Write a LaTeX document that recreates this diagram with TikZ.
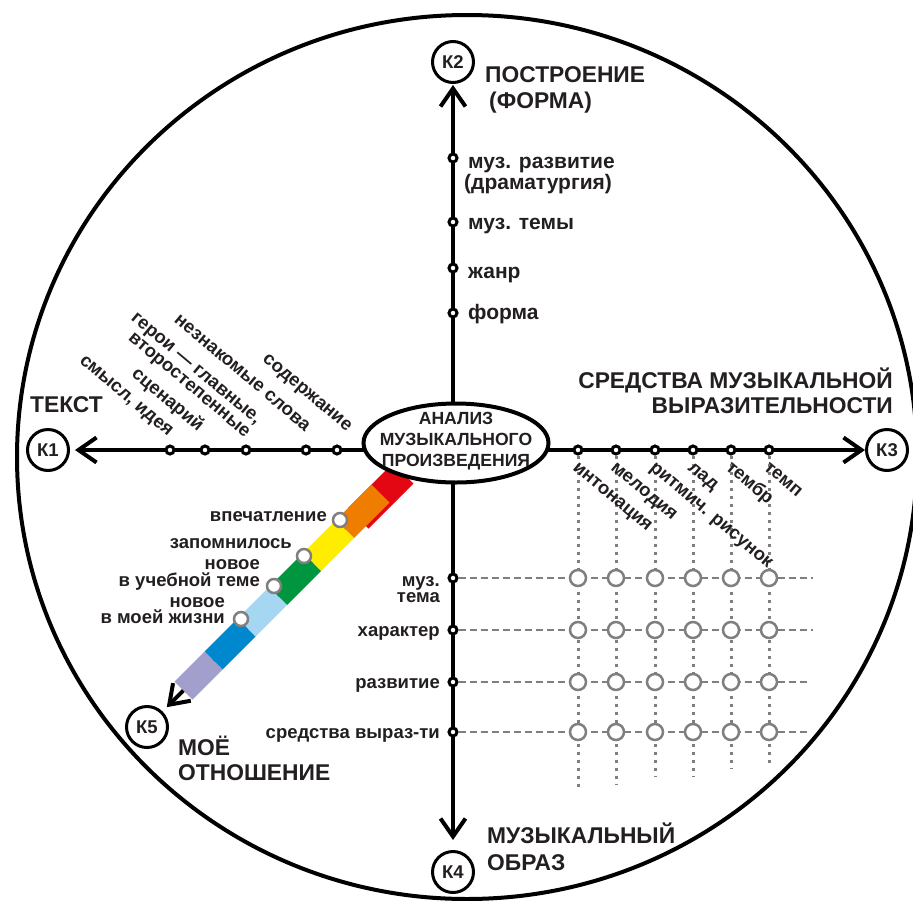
\documentclass[tikz,border=0pt]{standalone}
\usepackage{fontspec}
\setmainfont{Liberation Sans}
\usetikzlibrary{arrows.meta,shapes.geometric}
\pgfdeclarelayer{back}
\pgfdeclarelayer{mid}
\pgfsetlayers{back,mid,main}
\definecolor{ink}{HTML}{231F20}
\definecolor{gridgray}{HTML}{7F7F7F}
\definecolor{bandRed}{HTML}{E30613}
\definecolor{bandOrange}{HTML}{EF7D00}
\definecolor{bandYellow}{HTML}{FFED00}
\definecolor{bandGreen}{HTML}{009640}
\definecolor{bandSky}{HTML}{A5D7F3}
\definecolor{bandBlue}{HTML}{0088CF}
\definecolor{bandLilac}{HTML}{A39FCC}
% one coloured piece of the band: colour, start/end along the band (y-x), edges across it (x+y)
\newcommand{\bandpiece}[5]{%
  \fill[#1] ({(#4-#2)/2},{(#4+#2)/2}) -- ({(#5-#2)/2},{(#5+#2)/2})
    -- ({(#5-#3)/2},{(#5+#3)/2}) -- ({(#4-#3)/2},{(#4+#3)/2}) -- cycle;}
\begin{document}
\begin{tikzpicture}[x=1pt,y=-1pt,
  axisline/.style={draw=black, line width=4pt},
  barb/.style={-{Straight Barb[length=18pt,width=25pt,line width=4pt]}},
  kc/.style={circle, draw=black, line width=3pt, fill=white, minimum size=41pt,
    inner sep=0pt, text=ink, font=\fontsize{18.5}{18}\selectfont\bfseries},
  axdot/.style={circle, draw=black, line width=3pt, fill=white, minimum size=8pt, inner sep=0pt},
  gcirc/.style={circle, draw=gridgray, line width=2.5pt, fill=white, minimum size=16pt, inner sep=0pt},
  bcirc/.style={circle, draw=gridgray, line width=2.5pt, fill=white, minimum size=14pt, inner sep=0pt},
  gdash/.style={draw=gridgray, line width=2pt, dash pattern=on 7pt off 4pt},
  gdot/.style={draw=gridgray, line width=3pt, dash pattern=on 3pt off 5pt},
  lbl/.style={text=ink, inner sep=0pt, font=\fontsize{18.5}{17}\selectfont\bfseries},
  toplbl/.style={text=ink, inner sep=0pt, font=\fontsize{21}{21}\selectfont\bfseries},
  head/.style={text=ink, inner sep=0pt, font=\fontsize{22.8}{25}\selectfont\bfseries},
  slant/.style={lbl, rotate=-40}]
\useasboundingbox (0,0) rectangle (913,900);

% centre
\node[ellipse, draw=black, line width=4pt, fill=white, minimum width=185pt, minimum height=79pt,
  inner sep=-20pt, align=center, text=ink, text depth=7pt, font=\fontsize{17.6}{21}\selectfont\bfseries]
  (ana) at (456,443) {АНАЛИЗ\\МУЗЫКАЛЬНОГО\\ПРОИЗВЕДЕНИЯ};

% the five directions
\node[kc] (K1) at (48,450) {К1};
\node[kc] (K2) at (453,62) {К2};
\node[kc] (K3) at (887,450) {К3};
\node[kc] (K4) at (453,872) {К4};
\node[kc] (K5) at (147,727) {К5};
\coordinate (bandtop) at (386.5,486.5);

% headings (base = last line)
\node[head, anchor=base west] (hK1) at (30,412) {ТЕКСТ};
\node[head, anchor=base west, align=left, font=\fontsize{22.8}{26}\selectfont\bfseries]
  (hK2) at (485,108) {ПОСТРОЕНИЕ\\\hspace*{4pt}(ФОРМА)};
\node[head, anchor=base east, align=right] (hK3) at (893,413) {СРЕДСТВА МУЗЫКАЛЬНОЙ\\ВЫРАЗИТЕЛЬНОСТИ};
\node[head, anchor=base west, align=left, font=\fontsize{22.8}{27}\selectfont\bfseries]
  (hK4) at (487,870) {МУЗЫКАЛЬНЫЙ\\ОБРАЗ};
\node[head, anchor=base west, align=left] (hK5) at (178,780) {МОЁ\\ОТНОШЕНИЕ};

% K1 axis: text
\foreach \x [count=\i] in {337,306,246,205,170} \node[axdot] (a\i) at (\x,450) {};
\node[slant, anchor=base east] (la1) at (347,432) {содержание};
\node[slant, anchor=base east] (la2) at (305,432) {незнакомые слова};
\node[slant, anchor=base east, align=right] (la3) at (245,438) {герои — главные,\\второстепенные};
\node[slant, anchor=base east] (la4) at (198,432) {сценарий};
\node[slant, anchor=base east] (la5) at (168,437) {смысл, идея};

% K2 axis: form
\foreach \y [count=\i] in {158,222,268,313} \node[axdot] (t\i) at (453,\y) {};
\node[toplbl, anchor=base west, align=left]
  (lt1) at (464,189) {\hspace*{4pt}муз. развитие\\(драматургия)};
\node[toplbl, anchor=base west] (lt2) at (468,229) {муз. темы};
\node[toplbl, anchor=base west] (lt3) at (468,278) {жанр};
\node[toplbl, anchor=base west] (lt4) at (468,319) {форма};

% K3 axis: means of expression
\foreach \x [count=\i] in {578,616,655,693,731,769} \node[axdot] (c\i) at (\x,450) {};
\node[slant, anchor=base west] (lc1) at (572,469) {интонация};
\node[slant, anchor=base west] (lc2) at (610,469) {мелодия};
\node[slant, anchor=base west] (lc3) at (649,469) {ритмич. рисунок};
\node[slant, anchor=base west] (lc4) at (687,469) {лад};
\node[slant, anchor=base west] (lc5) at (725,469) {тембр};
\node[slant, anchor=base west] (lc6) at (763,469) {темп};

% K4 axis: image
\foreach \y [count=\j] in {578,630,682,732} \node[axdot] (r\j) at (453,\y) {};
\node[lbl, anchor=base east, align=right, font=\fontsize{18.5}{16}\selectfont\bfseries]
  (lr1) at (440,602) {муз.\\тема};
\node[lbl, anchor=base east] (lr2) at (440,636) {характер};
\node[lbl, anchor=base east] (lr3) at (440,688) {развитие};
\node[lbl, anchor=base east] (lr4) at (440,738) {средства выраз-ти};

% crossings of the two scales
\foreach \x [count=\i] in {578,616,655,693,731,769}
  \foreach \y [count=\j] in {578,630,682,732}
    \node[gcirc] (g\i-\j) at (\x,\y) {};
\coordinate (re1) at (813,578);
\coordinate (re2) at (813,630);
\coordinate (re3) at (807,682);
\coordinate (re4) at (807,732);
\coordinate (ce1) at (578,790);
\coordinate (ce2) at (616,784);
\coordinate (ce3) at (655,777);
\coordinate (ce4) at (693,777);
\coordinate (ce5) at (731,768);
\coordinate (ce6) at (769,763);

% K5 band: attitude
\node[bcirc] (b1) at (340,520) {};
\node[bcirc] (b2) at (304,556) {};
\node[bcirc] (b3) at (274,586) {};
\node[bcirc] (b4) at (241,619) {};
\node[lbl, anchor=base east] (lb1) at (327,521) {впечатление};
\node[lbl, anchor=base east] (lb2) at (292,548) {запомнилось};
\node[lbl, anchor=base east, align=right] (lb3) at (260,586) {новое\\в учебной теме};
\node[lbl, anchor=base east, align=right, font=\fontsize{18.5}{16}\selectfont\bfseries]
  (lb4) at (225,623) {новое\\в моей жизни};

\begin{pgfonlayer}{back}
  \draw[line width=4pt] (467,457) ellipse [x radius=450pt, y radius=442pt];
  \foreach \j in {1,...,4} \draw[gdash] (r\j) -- (re\j);
  \foreach \i in {1,...,6} \draw[gdot] (c\i) -- (ce\i);
  \draw[axisline, barb, shorten >=5pt] (ana.center |- K1) -- (K1);
  \draw[axisline, barb] (ana.center |- K3) -- (K3);
  \draw[axisline, barb, shorten >=1pt] (K2 |- ana.center) -- (K2);
  \draw[axisline, barb, shorten >=10pt] (K4 |- ana.center) -- (K4);
  \draw[axisline, barb, shorten >=6pt] (bandtop) -- (K5);
\end{pgfonlayer}

\begin{pgfonlayer}{mid}
  \bandpiece{bandRed}{70}{160}{856}{897}
  \bandpiece{bandOrange}{113}{184}{856}{892}
  \bandpiece{bandYellow}{184}{250}{856}{892}
  \bandpiece{bandGreen}{250}{318}{856}{892}
  \bandpiece{bandSky}{318}{381}{856}{892}
  \bandpiece{bandBlue}{381}{447}{856}{892}
  \bandpiece{bandLilac}{447}{507}{856}{892}
\end{pgfonlayer}
\end{tikzpicture}
\end{document}
